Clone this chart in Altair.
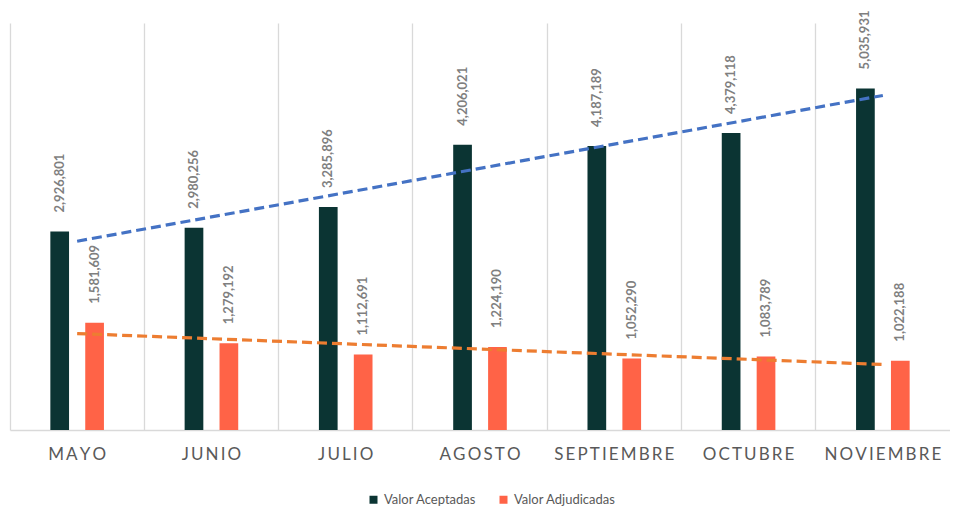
import altair as alt
import pandas as pd

months = ["MAYO", "JUNIO", "JULIO", "AGOSTO", "SEPTIEMBRE", "OCTUBRE", "NOVIEMBRE"]
series = ["Valor Aceptadas", "Valor Adjudicadas"]
aceptadas = [2926801, 2980256, 3285896, 4206021, 4187189, 4379118, 5035931]
adjudicadas = [1581609, 1279192, 1112691, 1224190, 1052290, 1083789, 1022188]

bar_colors = ["#0b3433", "#ff6347"]
trend_colors = ["#4472c4", "#ed7d31"]

rows = []
for i, m in enumerate(months):
    rows.append({"mes": m, "idx": i, "serie": series[0], "valor": aceptadas[i]})
    rows.append({"mes": m, "idx": i, "serie": series[1], "valor": adjudicadas[i]})
df = pd.DataFrame(rows)
lookup_df = pd.DataFrame({"idx": list(range(len(months))), "mes": months})

x_enc = alt.X(
    "mes:N",
    sort=months,
    scale=alt.Scale(paddingInner=0, paddingOuter=0),
    axis=alt.Axis(
        title=None,
        grid=True,
        bandPosition=0,
        gridColor="#d9d9d9",
        gridWidth=1.3,
        ticks=False,
        tickSize=0,
        domain=True,
        domainColor="#d9d9d9",
        domainWidth=1.6,
        labelAngle=0,
        labelFont="Lato",
        labelFontSize=17,
        labelColor="#595959",
        labelPadding=16,
        labelExpr="join(split(datum.label, ''), '\u2009')",
    ),
)
y_enc = alt.Y("valor:Q", scale=alt.Scale(domain=[0, 6000000]), axis=None)
xoff_enc = alt.XOffset(
    "serie:N",
    scale=alt.Scale(domain=series, paddingInner=0.152, paddingOuter=1),
)

base = alt.Chart(df)

bars = base.mark_bar(width=18.7).encode(
    x=x_enc,
    xOffset=xoff_enc,
    y=y_enc,
    color=alt.Color(
        "serie:N",
        scale=alt.Scale(domain=series, range=bar_colors),
        legend=alt.Legend(
            orient="none",
            legendX=357,
            legendY=470,
            direction="horizontal",
            title=None,
            symbolType="square",
            symbolSize=64,
            symbolStrokeWidth=0,
            labelFont="Lato",
            labelFontSize=13,
            labelColor="#595959",
            columnPadding=20,
        ),
    ),
)

labels = base.mark_text(
    angle=270,
    align="left",
    baseline="middle",
    dx=19,
    font="Lato",
    fontSize=13,
    fontWeight="bold",
    color="#7f7f7f",
).encode(
    x=x_enc,
    xOffset=xoff_enc,
    y=y_enc,
    text=alt.Text("valor:Q", format=","),
)

trend = (
    base.transform_regression("idx", "valor", groupby=["serie"], method="linear")
    .transform_lookup(
        lookup="idx",
        from_=alt.LookupData(data=lookup_df, key="idx", fields=["mes"]),
    )
    .mark_line(strokeDash=[10, 5], strokeWidth=3.2)
    .encode(
        x=x_enc,
        y=y_enc,
        stroke=alt.Stroke(
            "serie:N",
            scale=alt.Scale(domain=series, range=trend_colors),
            legend=None,
        ),
    )
)

chart = (
    alt.layer(bars, labels, trend)
    .resolve_scale(color="independent")
    .properties(
        width=940,
        height=407,
        autosize="none",
        padding={"left": 2, "top": 15, "right": 0, "bottom": 76},
        background="white",
    )
    .configure_view(stroke=None)
)

chart.save("out.html", embed_options={"renderer": "svg", "actions": False})
